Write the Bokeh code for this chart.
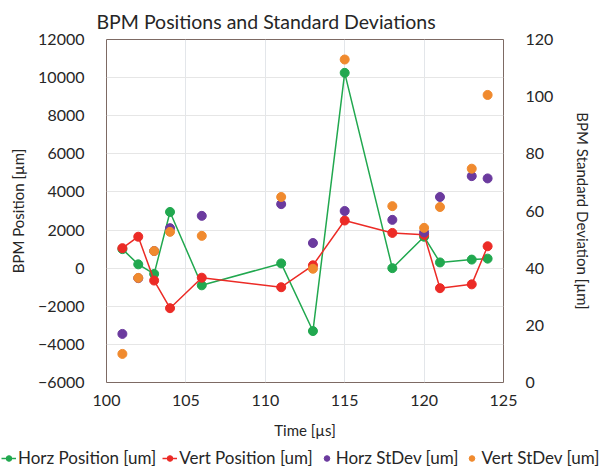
from bokeh.plotting import figure
from bokeh.models import Range1d, LinearAxis, Legend, LegendItem, FixedTicker
from bokeh.layouts import column
from bokeh.embed import file_html
from bokeh.resources import INLINE

time_us = [101, 102, 103, 104, 106, 111, 113, 115, 118, 120, 121, 123, 124]
horz_pos = [1000, 200, -300, 2950, -900, 250, -3300, 10250, 0, 1650, 300, 450, 500]
vert_pos = [1050, 1650, -650, -2100, -500, -1000, 150, 2500, 1850, 1750, -1050, -850, 1150]
horz_sd = [17, 36.5, 46, 54, 58.3, 62.4, 48.8, 60, 56.9, 52.5, 64.9, 72.2, 71.4]
vert_sd = [10, 36.6, 46, 52.7, 51.3, 64.9, 39.8, 113, 61.7, 54.1, 61.4, 74.8, 100.6]

x_ticks = [100, 105, 110, 115, 120, 125]
y_ticks = [-6000, -4000, -2000, 0, 2000, 4000, 6000, 8000, 10000, 12000]
sd_ticks = [0, 20, 40, 60, 80, 100, 120]

labels = ["Horz Position [um]", "Vert Position [um]", "Horz StDev [um]", "Vert StDev [um]"]

FONT = "Lato"
GREEN = "#21a84f"
RED = "#ec2b26"
PURPLE = "#6b3a9e"
ORANGE = "#f08a2e"
TXT = "#262626"

p = figure(width=602, height=445, output_backend="svg", toolbar_location=None,
           x_range=Range1d(100, 125), y_range=Range1d(-6000, 12000),
           min_border_left=106, min_border_right=99, min_border_top=38, min_border_bottom=63)
p.frame_align = False
p.extra_y_ranges = {"sd": Range1d(0, 120)}

p.title.text = "BPM Positions and Standard Deviations"
p.title.text_font = FONT
p.title.text_font_size = "19.5px"
p.title.text_font_style = "normal"
p.title.text_color = TXT
p.title.align = "left"
p.title.offset = -10
p.title.standoff = 14

p.outline_line_color = "#7d6a64"
p.outline_line_width = 1
p.background_fill_color = "white"
p.border_fill_color = "white"

p.xaxis.ticker = FixedTicker(ticks=x_ticks)
p.yaxis.ticker = FixedTicker(ticks=y_ticks)
p.xgrid.ticker = FixedTicker(ticks=x_ticks)
p.ygrid.ticker = FixedTicker(ticks=y_ticks)
p.xgrid.grid_line_color = "#e3e6ea"
p.ygrid.grid_line_color = "#e6e6e6"

p.xaxis.axis_label = "Time [µs]"
p.yaxis.axis_label = "BPM Position [µm]"

right = LinearAxis(y_range_name="sd", ticker=FixedTicker(ticks=sd_ticks),
                   axis_label="BPM Standard Deviation [µm]")
p.add_layout(right, "right")

for ax in [p.xaxis[0], p.yaxis[0], right]:
    ax.axis_line_color = None
    ax.major_tick_line_color = None
    ax.minor_tick_line_color = None
    ax.major_label_text_font = FONT
    ax.major_label_text_font_size = "16px"
    ax.major_label_text_color = TXT
    ax.axis_label_text_font = FONT
    ax.axis_label_text_font_size = "15px"
    ax.axis_label_text_font_style = "normal"
    ax.axis_label_text_color = TXT
p.yaxis[0].major_label_standoff = 16
right.major_label_standoff = 16
p.xaxis[0].major_label_standoff = 6
p.xaxis[0].axis_label_standoff = 12
p.yaxis[0].axis_label_standoff = 8
right.axis_label_standoff = 18

p.line(time_us, horz_pos, line_color=GREEN, line_width=1.5)
p.scatter(time_us, horz_pos, size=9, fill_color=GREEN, line_color=GREEN)
p.line(time_us, vert_pos, line_color=RED, line_width=1.5)
p.scatter(time_us, vert_pos, size=9, fill_color=RED, line_color=RED)
p.scatter(time_us, horz_sd, size=9, fill_color=PURPLE, line_color=PURPLE, y_range_name="sd")
p.scatter(time_us, vert_sd, size=9, fill_color=ORANGE, line_color=ORANGE, y_range_name="sd")

# legend strip (renderers reuse the data but lie outside this strip's ranges)
lg = figure(width=602, height=25, output_backend="svg", toolbar_location=None,
            x_range=Range1d(0, 1), y_range=Range1d(0, 1),
            x_axis_location=None, y_axis_location=None,
            min_border_left=0, min_border_right=0, min_border_top=0, min_border_bottom=0)
lg.frame_align = False
lg.outline_line_color = None
lg.grid.visible = False
hl = lg.line(time_us, horz_pos, line_color=GREEN, line_width=1.5)
hc = lg.scatter(time_us, horz_pos, size=6, fill_color=GREEN, line_color=GREEN)
vl = lg.line(time_us, vert_pos, line_color=RED, line_width=1.5)
vc = lg.scatter(time_us, vert_pos, size=6, fill_color=RED, line_color=RED)
hs = lg.scatter(time_us, horz_sd, size=6, fill_color=PURPLE, line_color=PURPLE)
vs = lg.scatter(time_us, vert_sd, size=6, fill_color=ORANGE, line_color=ORANGE)

legend = Legend(items=[
    LegendItem(label=labels[0], renderers=[hl, hc]),
    LegendItem(label=labels[1], renderers=[vl, vc]),
    LegendItem(label=labels[2], renderers=[hs]),
    LegendItem(label=labels[3], renderers=[vs]),
], orientation="horizontal", location=(1, 2))
legend.label_text_font = FONT
legend.label_text_font_size = "17px"
legend.label_text_color = TXT
legend.glyph_width = 15
legend.glyph_height = 14
legend.label_standoff = 2
legend.spacing = 6
legend.padding = 1
legend.margin = 0
legend.border_line_color = None
legend.background_fill_alpha = 0
lg.add_layout(legend)

layout = column(p, lg, spacing=0)
open("out.html", "w").write(file_html(layout, INLINE))
